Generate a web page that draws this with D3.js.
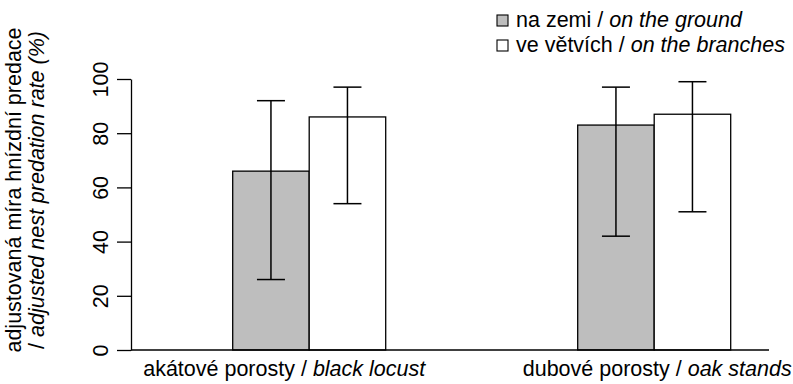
<!DOCTYPE html>
<html>
<head>
<meta charset="utf-8">
<script src="https://cdn.jsdelivr.net/npm/d3@7"></script>
<style>
  html, body { margin: 0; padding: 0; background: #fff; }
  svg { display: block; font-family: "Liberation Sans", Arial, Helvetica, sans-serif; }
  text { fill: #000; }
</style>
</head>
<body>
<svg id="chart" width="793" height="384"></svg>
<script>
// Stand types (Czech / English)
const categories = ["akátové porosty", "dubové porosty"];
const categoriesEn = ["black locust", "oak stands"];

// Nest placement series (Czech / English)
const seriesKeys = ["ground", "branches"];
const seriesCz = ["na zemi", "ve větvích"];
const seriesEn = ["on the ground", "on the branches"];
const seriesFill = ["#bebebe", "#ffffff"];

// Adjusted nest predation rate (%) with confidence limits
const groundValues = [66, 83];
const groundLower = [26, 42];
const groundUpper = [92, 97];
const branchesValues = [86, 87];
const branchesLower = [54, 51];
const branchesUpper = [97, 99];

const yTicks = [0, 20, 40, 60, 80, 100];

const FONT = 21.5;
const svg = d3.select("#chart");

// plot frame
const axisX = 131;
const plotRight = 769;

const y = d3.scaleLinear().domain([0, 100]).range([350, 79]);

const x = d3.scaleBand()
  .domain(categories)
  .range([146.45, 816.95])
  .paddingInner(0.5565)
  .paddingOuter(0.25);

const xs = d3.scaleBand()
  .domain(seriesKeys)
  .range([0, x.bandwidth()])
  .padding(0);

const rows = [];
categories.forEach((c, i) => {
  rows.push({ cat: c, key: "ground", fill: seriesFill[0],
    v: groundValues[i], lo: groundLower[i], hi: groundUpper[i] });
  rows.push({ cat: c, key: "branches", fill: seriesFill[1],
    v: branchesValues[i], lo: branchesLower[i], hi: branchesUpper[i] });
});

// bars
svg.append("g").selectAll("rect")
  .data(rows)
  .join("rect")
  .attr("x", d => x(d.cat) + xs(d.key))
  .attr("y", d => y(d.v))
  .attr("width", xs.bandwidth())
  .attr("height", d => y(0) - y(d.v))
  .attr("fill", d => d.fill)
  .attr("stroke", "#000")
  .attr("stroke-width", 1.3);

// error bars
const capHalf = 14;
const eb = svg.append("g").attr("stroke", "#000").attr("stroke-width", 1.5);
rows.forEach(d => {
  const cx = x(d.cat) + xs(d.key) + xs.bandwidth() / 2;
  eb.append("line").attr("x1", cx).attr("x2", cx).attr("y1", y(d.lo)).attr("y2", y(d.hi));
  eb.append("line").attr("x1", cx - capHalf).attr("x2", cx + capHalf).attr("y1", y(d.hi)).attr("y2", y(d.hi));
  eb.append("line").attr("x1", cx - capHalf).attr("x2", cx + capHalf).attr("y1", y(d.lo)).attr("y2", y(d.lo));
});

// baseline
svg.append("line")
  .attr("x1", axisX).attr("x2", plotRight)
  .attr("y1", y(0)).attr("y2", y(0))
  .attr("stroke", "#000").attr("stroke-width", 1.3);

// y axis with rotated labels
const yAxis = svg.append("g")
  .attr("transform", `translate(${axisX},0)`)
  .call(d3.axisLeft(y).tickValues(yTicks).tickSize(14).tickSizeOuter(0));
yAxis.select(".domain").attr("stroke", "#000").attr("stroke-width", 1.3);
yAxis.selectAll(".tick line").attr("stroke", "#000").attr("stroke-width", 1.3);
yAxis.selectAll(".tick text")
  .attr("x", null).attr("dy", null)
  .attr("transform", "translate(-23,0) rotate(-90)")
  .attr("text-anchor", "middle")
  .attr("font-size", FONT)
  .attr("font-family", "Liberation Sans, Arial, sans-serif")
  .attr("fill", "#000");

// y axis title (two lines)
const titleCy = 190;
svg.append("text")
  .attr("transform", `translate(20.5,${titleCy}) rotate(-90)`)
  .attr("text-anchor", "middle")
  .attr("font-size", FONT)
  .text("adjustovaná míra hnízdní predace");
const t2 = svg.append("text")
  .attr("transform", `translate(43.5,${titleCy}) rotate(-90)`)
  .attr("text-anchor", "middle")
  .attr("font-size", FONT);
t2.append("tspan").text("/ ");
t2.append("tspan").attr("font-style", "italic").text("adjusted nest predation rate (%)");

// category labels
const labelShift = [-25, 3];
categories.forEach((c, i) => {
  const t = svg.append("text")
    .attr("x", x(c) + x.bandwidth() / 2 + labelShift[i])
    .attr("y", 376)
    .attr("text-anchor", "middle")
    .attr("font-size", FONT);
  t.append("tspan").text(c + " / ");
  t.append("tspan").attr("font-style", "italic").text(categoriesEn[i]);
});

// legend
const legend = svg.append("g").attr("transform", "translate(497,0)");
const legBase = [26.5, 51.5];
seriesKeys.forEach((k, i) => {
  legend.append("rect")
    .attr("x", 0).attr("y", legBase[i] - 11.5)
    .attr("width", 11).attr("height", 11)
    .attr("fill", seriesFill[i])
    .attr("stroke", "#000").attr("stroke-width", 1.1);
  const t = legend.append("text")
    .attr("x", 19).attr("y", legBase[i])
    .attr("font-size", FONT);
  t.append("tspan").text(seriesCz[i] + " / ");
  t.append("tspan").attr("font-style", "italic").text(seriesEn[i]);
});
</script>
</body>
</html>
